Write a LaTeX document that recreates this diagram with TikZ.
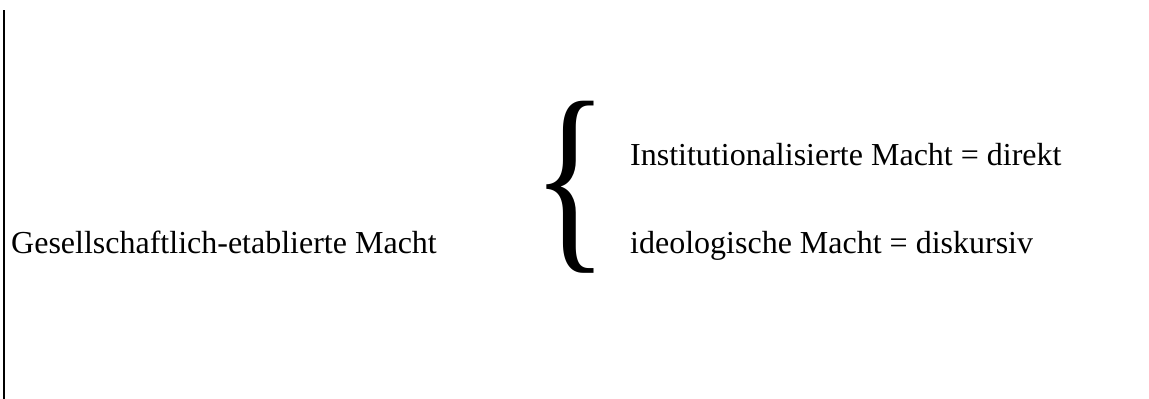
\documentclass[tikz,border=0pt]{standalone}
\usepackage{fontspec}
\setmainfont{Liberation Serif}
\begin{document}
\begin{tikzpicture}[x=1pt,y=-1pt,
  lbl/.style={anchor=base west,inner sep=0pt,font=\fontsize{32}{38}\selectfont},
  bigbrace/.style={anchor=base west,inner sep=0pt,font=\fontsize{200}{200}\selectfont}]
\useasboundingbox (0,0) rectangle (1149,399);
\coordinate (ltop) at (4,10);
\coordinate (lbot) at (4,399);
\draw[line width=1.2pt] (ltop) -- (lbot);
\node[lbl] (main) at (11,253) {Gesellschaftlich-etablierte Macht};
\node[bigbrace] (br) at (532.5,245) {\scalebox{0.79}[1.04]{\{}};
\node[lbl] (inst) at (630,165) {Institutionalisierte Macht = direkt};
\node[lbl] (ideo) at (630,253) {ideologische Macht = diskursiv};
\end{tikzpicture}
\end{document}
